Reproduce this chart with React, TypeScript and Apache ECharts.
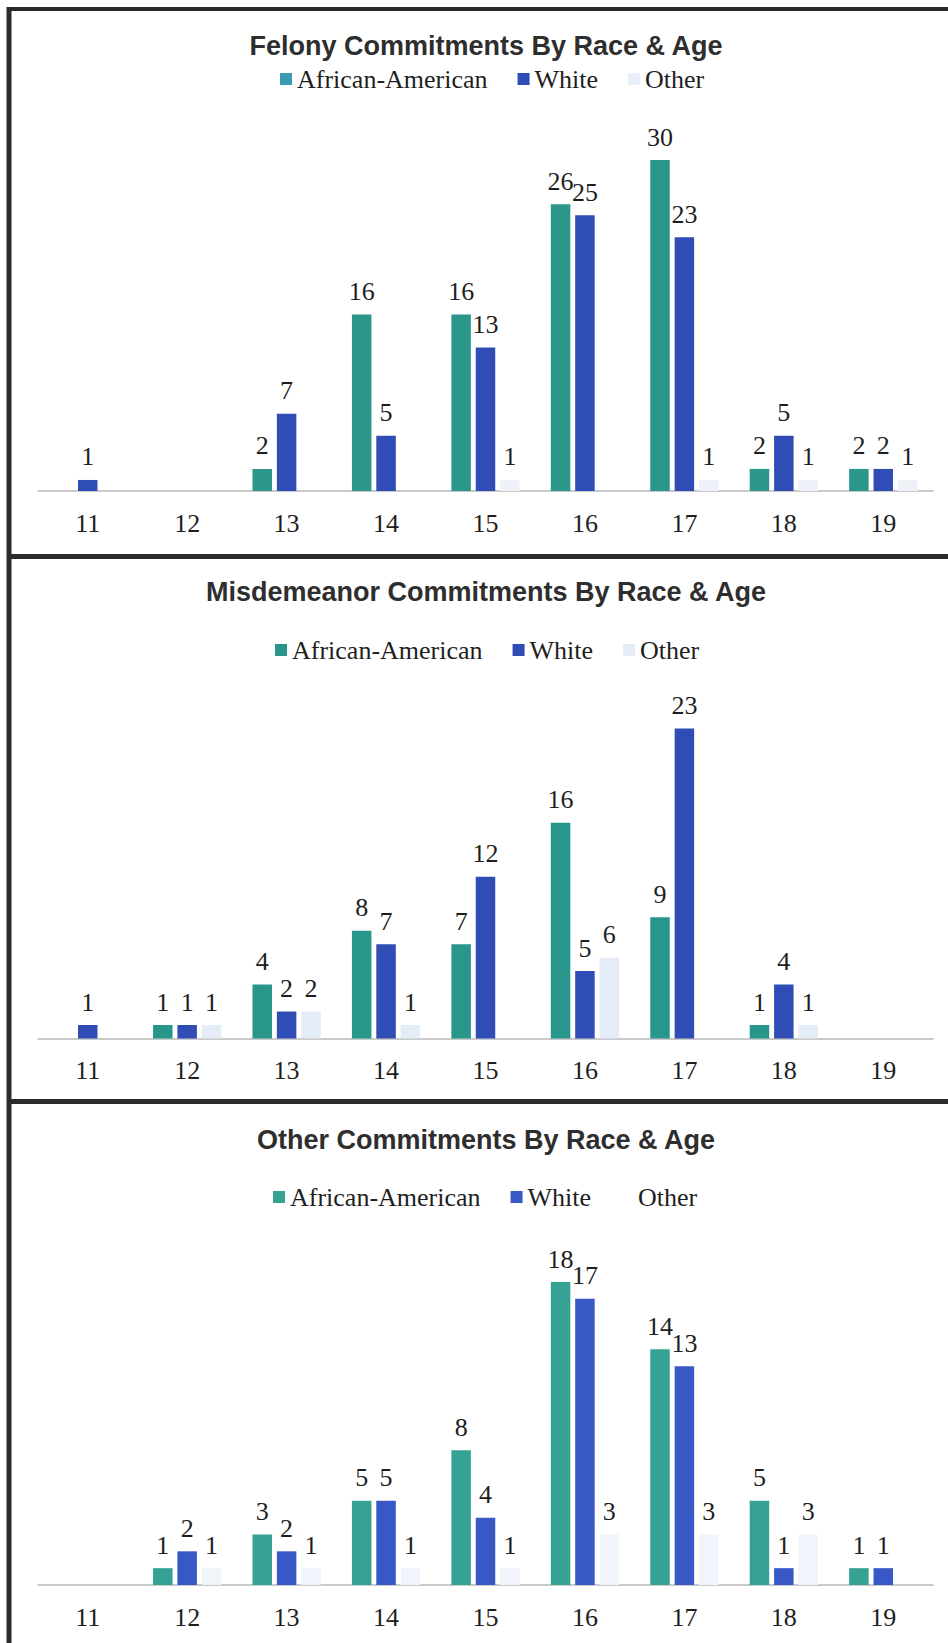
import React, { useEffect, useRef } from "react";
import * as echarts from "echarts";

const ages = ["11", "12", "13", "14", "15", "16", "17", "18", "19"];
const raceNames = ["African-American", "White", "Other"];
const panelTitles = [
  "Felony Commitments By Race & Age",
  "Misdemeanor Commitments By Race & Age",
  "Other Commitments By Race & Age",
];

const felonyAfricanAmerican = [0, 0, 2, 16, 16, 26, 30, 2, 2];
const felonyWhite = [1, 0, 7, 5, 13, 25, 23, 5, 2];
const felonyOther = [0, 0, 0, 0, 1, 0, 1, 1, 1];

const misdemeanorAfricanAmerican = [0, 1, 4, 8, 7, 16, 9, 1, 0];
const misdemeanorWhite = [1, 1, 2, 7, 12, 5, 23, 4, 0];
const misdemeanorOther = [0, 1, 2, 1, 0, 6, 0, 1, 0];

const otherAfricanAmerican = [0, 1, 3, 5, 8, 18, 14, 5, 1];
const otherWhite = [0, 2, 2, 5, 4, 17, 13, 1, 1];
const otherOther = [0, 1, 1, 1, 1, 3, 3, 3, 0];

const panelData = [
  [felonyAfricanAmerican, felonyWhite, felonyOther],
  [misdemeanorAfricanAmerican, misdemeanorWhite, misdemeanorOther],
  [otherAfricanAmerican, otherWhite, otherOther],
];
const yMax = [30, 23, 18];

const layout = [
  { titleY: 45.5, legendTop: 66, legendLeft: 280, gridTop: 160, gridHeight: 331 },
  { titleY: 592, legendTop: 637, legendLeft: 275, gridTop: 728.5, gridHeight: 310 },
  { titleY: 1140, legendTop: 1184, legendLeft: 273, gridTop: 1282, gridHeight: 303 },
];

const seriesColors = [
  ["#2a978a", "#2f4db5", "#eef2f8"],
  ["#28968a", "#2f4db5", "#e4ecf7"],
  ["#36a293", "#3858c6", "#f1f5fb"],
];
const legendColors = [
  ["#3a9cb0", "#2f4db5", "#e9eff8"],
  ["#28968a", "#2f4db5", "#e6edf7"],
  ["#36a293", "#3858c6", "#ffffff"],
];

const SERIF = "'Liberation Serif', 'Times New Roman', serif";
const SANS = "'Liberation Sans', Arial, sans-serif";

export default function App() {
  const ref = useRef<HTMLDivElement>(null);

  useEffect(() => {
    if (!ref.current) return;
    const chart = echarts.init(ref.current, undefined, { renderer: "svg" });

    const grids = layout.map((l) => ({
      left: 38,
      width: 895,
      top: l.gridTop,
      height: l.gridHeight,
      containLabel: false,
    }));

    const xAxes = layout.map((_, i) => ({
      type: "category",
      gridIndex: i,
      data: ages,
      axisLine: { show: true, lineStyle: { color: "#b8b8b8", width: 1.5 } },
      axisTick: { show: false },
      axisLabel: {
        fontFamily: SERIF,
        fontSize: 26,
        color: "#1e1e1e",
        margin: 19,
      },
    }));

    const yAxes = layout.map((_, i) => ({
      type: "value",
      gridIndex: i,
      min: 0,
      max: yMax[i],
      show: false,
      splitLine: { show: false },
    }));

    const series: any[] = [];
    panelData.forEach((sets, p) => {
      sets.forEach((vals, r) => {
        series.push({
          type: "bar",
          name: raceNames[r],
          xAxisIndex: p,
          yAxisIndex: p,
          data: vals,
          barWidth: 19.5,
          barGap: "25%",
          itemStyle: { color: seriesColors[p][r] },
          label: {
            show: true,
            position: "top",
            distance: 10,
            fontFamily: SERIF,
            fontSize: 26,
            color: "#1e1e1e",
            formatter: (prm: any) => (prm.value ? String(prm.value) : ""),
          },
        });
      });
    });

    const legends = layout.map((l, p) => ({
      left: l.legendLeft,
      top: l.legendTop,
      orient: "horizontal",
      icon: "rect",
      itemWidth: 12,
      itemHeight: 12,
      itemGap: 30,
      padding: 0,
      selectedMode: false,
      textStyle: { fontFamily: SERIF, fontSize: 26, color: "#1e1e1e" },
      data: raceNames.map((n, r) => ({
        name: n,
        itemStyle: { color: legendColors[p][r] },
      })),
    }));

    const borderColor = "#2b2b2b";
    const graphics: any[] = [
      {
        type: "line",
        shape: { x1: 9, y1: 7, x2: 9, y2: 1643 },
        style: { stroke: borderColor, lineWidth: 5 },
      },
      {
        type: "line",
        shape: { x1: 7, y1: 9, x2: 948, y2: 9 },
        style: { stroke: borderColor, lineWidth: 4 },
      },
      {
        type: "line",
        shape: { x1: 7, y1: 556.5, x2: 948, y2: 556.5 },
        style: { stroke: borderColor, lineWidth: 5 },
      },
      {
        type: "line",
        shape: { x1: 7, y1: 1101.5, x2: 948, y2: 1101.5 },
        style: { stroke: borderColor, lineWidth: 5 },
      },
    ];
    layout.forEach((l, p) => {
      graphics.push({
        type: "text",
        x: 486,
        y: l.titleY,
        style: {
          text: panelTitles[p],
          fontFamily: SANS,
          fontWeight: "bold",
          fontSize: 27,
          fill: "#2e2e2e",
          textAlign: "center",
          textVerticalAlign: "middle",
        },
      });
    });

    chart.setOption({
      animation: false,
      backgroundColor: "#ffffff",
      grid: grids,
      xAxis: xAxes,
      yAxis: yAxes,
      legend: legends,
      series,
      graphic: graphics,
    });

    return () => {
      chart.dispose();
    };
  }, []);

  return (
    <div
      ref={ref}
      style={{
        position: "absolute",
        left: 0,
        top: 0,
        width: 948,
        height: 1643,
        background: "#ffffff",
      }}
    />
  );
}
